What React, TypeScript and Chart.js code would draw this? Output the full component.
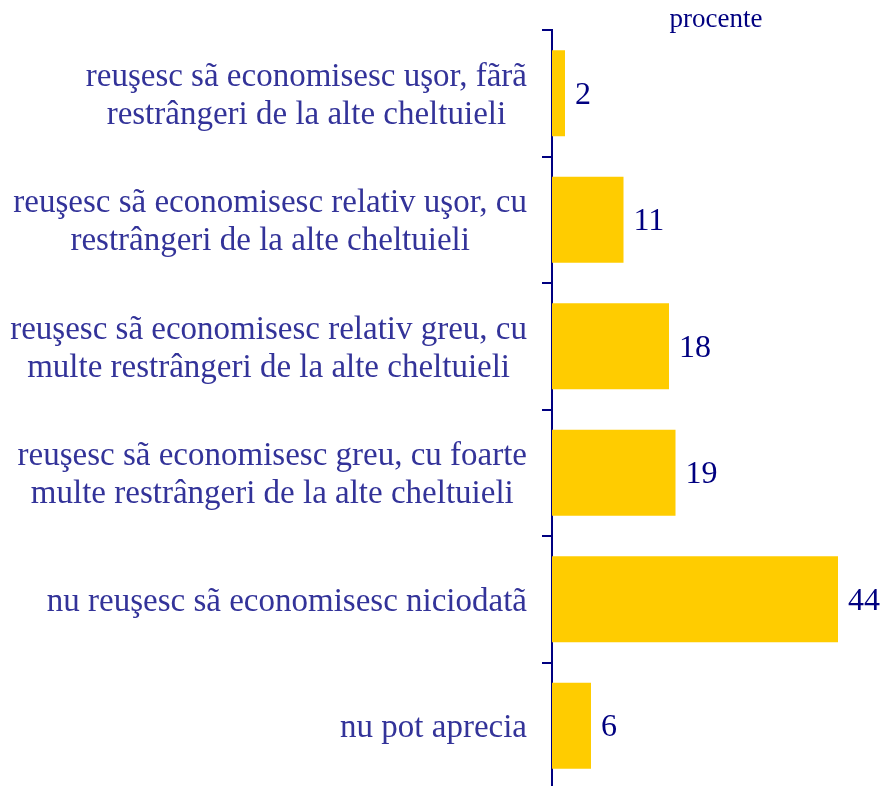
import React, { useEffect, useRef } from "react";
import { Chart, registerables } from "chart.js";

Chart.register(...registerables);

const categories: string[][] = [
  ["reuşesc sã economisesc uşor, fãrã", "restrângeri de la alte cheltuieli"],
  ["reuşesc sã economisesc relativ uşor, cu", "restrângeri de la alte cheltuieli"],
  ["reuşesc sã economisesc relativ greu, cu", "multe restrângeri de la alte cheltuieli"],
  ["reuşesc sã economisesc greu, cu foarte", "multe restrângeri de la alte cheltuieli"],
  ["nu reuşesc sã economisesc niciodatã"],
  ["nu pot aprecia"],
];
const values: number[] = [2, 11, 18, 19, 44, 6];
const unitLabel = "procente";

const FONT = "'Liberation Serif', 'Times New Roman', serif";

export default function App() {
  const ref = useRef<HTMLCanvasElement | null>(null);
  useEffect(() => {
    if (!ref.current) return;
    const labelPlugin = {
      id: "valueLabels",
      afterDatasetsDraw(chart: any) {
        const ctx = chart.ctx;
        const meta = chart.getDatasetMeta(0);
        const yScale = chart.scales.y;
        ctx.save();
        // category labels, lines centred within each block, block right-aligned
        ctx.fillStyle = "#333399";
        ctx.font = `33px ${FONT}`;
        ctx.textBaseline = "middle";
        ctx.textAlign = "center";
        const lineH = 38;
        const rightEdge = yScale.right - 10 - 15;
        categories.forEach((lines, i) => {
          const cy = yScale.getPixelForTick(i) + 3;
          const maxW = Math.max(...lines.map((l) => ctx.measureText(l).width));
          const cx = rightEdge - maxW / 2;
          const startY = cy - ((lines.length - 1) * lineH) / 2;
          lines.forEach((l, j) => ctx.fillText(l, cx, startY + j * lineH));
        });
        // value labels
        ctx.fillStyle = "#000080";
        ctx.font = `32px ${FONT}`;
        ctx.textAlign = "left";
        meta.data.forEach((bar: any, i: number) => {
          ctx.fillText(String(values[i]), bar.x + 10, bar.y + 2);
        });
        ctx.font = `27px ${FONT}`;
        ctx.textAlign = "center";
        ctx.fillText(unitLabel, 716, 20);
        ctx.restore();
      },
    };
    const chart = new Chart(ref.current, {
      type: "bar",
      data: {
        labels: categories,
        datasets: [
          {
            data: values,
            backgroundColor: "#FFCC00",
            borderWidth: 0,
            barPercentage: 0.68,
            categoryPercentage: 1,
          },
        ],
      },
      options: {
        indexAxis: "y",
        animation: false,
        responsive: false,
        maintainAspectRatio: false,
        layout: { padding: { top: 30, right: 6, bottom: 0, left: 0 } },
        plugins: {
          legend: { display: false },
          tooltip: { enabled: false },
        },
        scales: {
          x: { display: false, min: 0, max: 50 },
          y: {
            z: 1,
            afterFit: (scale: any) => {
              scale.width = 552;
              scale.paddingTop = 0;
              scale.paddingBottom = 0;
            },
            border: { display: true, color: "#000080", width: 2 },
            grid: {
              display: true,
              drawOnChartArea: false,
              drawTicks: true,
              tickLength: 10,
              color: "#000080",
              lineWidth: 2,
              offset: true,
            },
            ticks: { display: false },
          },
        },
      },
      plugins: [labelPlugin],
    });
    return () => chart.destroy();
  }, []);
  return (
    <div
      style={{
        position: "fixed",
        left: 0,
        top: 0,
        width: 883,
        height: 786,
        overflow: "hidden",
        background: "#fff",
      }}
    >
      <canvas ref={ref} width={883} height={789} style={{ display: "block" }} />
    </div>
  );
}
